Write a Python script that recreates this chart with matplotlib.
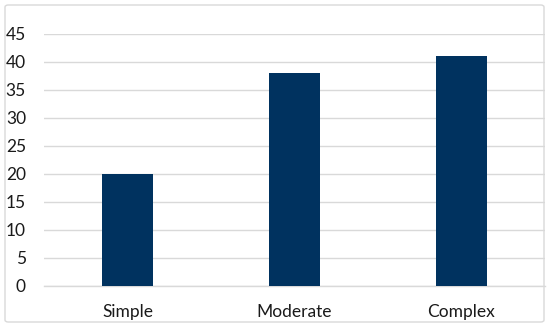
import matplotlib.pyplot as plt
from matplotlib.patches import FancyBboxPatch

# data
categories = ["Simple", "Moderate", "Complex"]
values = [20, 38, 41]
yticks = [0, 5, 10, 15, 20, 25, 30, 35, 40, 45]

plt.rcParams['font.family'] = ['Lato', 'DejaVu Sans']

fig = plt.figure(figsize=(5.5, 3.29), dpi=100)
W, H = 550, 329

# chart border
border = FancyBboxPatch((5 / W, 7 / H), 539 / W, 317 / H,
                        boxstyle="round,pad=0,rounding_size=0.006",
                        transform=fig.transFigure, fill=False,
                        edgecolor="#d9d9d9", linewidth=1.0)
fig.patches.append(border)

ax = fig.add_axes([44 / W, (H - 286) / H, (545 - 44) / W, (286 - 34) / H])
x = range(len(categories))
ax.bar(x, values, width=0.31, color="#00325f", zorder=3)

ax.set_xlim(-0.5, len(categories) - 0.5)
ax.set_ylim(0, 45)
ax.set_yticks(yticks)
ax.set_xticks(list(x))
ax.set_xticklabels(categories)
ax.grid(axis="y", color="#d9d9d9", linewidth=1.0, zorder=0)
ax.set_axisbelow(True)

for s in ["top", "right", "left"]:
    ax.spines[s].set_visible(False)
ax.spines["bottom"].set_color("#d9d9d9")
ax.spines["bottom"].set_linewidth(1.0)

ax.tick_params(axis="y", length=0, pad=13, labelsize=12.5, labelcolor="#1a1a1a")
ax.tick_params(axis="x", length=0, pad=13, labelsize=12.5, labelcolor="#1a1a1a")

fig.savefig("out.png", dpi=100)
